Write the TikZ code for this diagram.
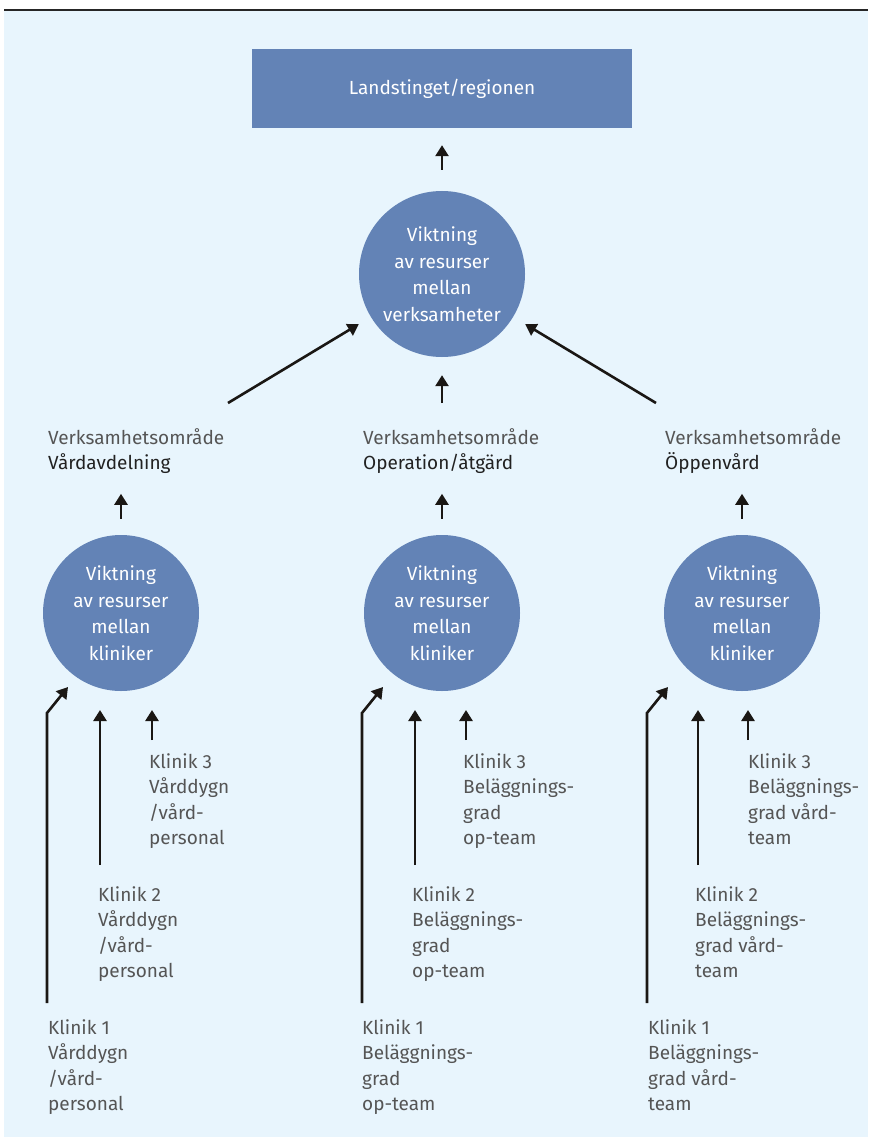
\documentclass[tikz,border=0pt]{standalone}
\usepackage{fontspec}
\setmainfont{Fira Sans}
\usetikzlibrary{arrows.meta}
\definecolor{bgblue}{HTML}{E8F5FD}
\definecolor{boxblue}{HTML}{6383B6}
\definecolor{txtgray}{HTML}{555555}
\definecolor{txtdark}{HTML}{222222}
\definecolor{pilsvart}{HTML}{1A1714}

\begin{document}
\begin{tikzpicture}[x=1pt, y=-1pt,
		vikt/.style={circle, fill=boxblue, text=white, align=center, inner sep=0pt, font=\fontsize{19}{26.5}\selectfont},
		etikett/.style={anchor=north west, inner sep=0pt, align=left, text=txtgray, font=\fontsize{19}{25.5}\selectfont},
		pil/.style={draw=pilsvart, line width=2.6pt, -{Triangle[length=11pt,width=13pt]}}]
			%%%%% START %%%%%
			
			\useasboundingbox (0, 0) rectangle (868, 1139);
			\fill[bgblue] (4, 11) rectangle (868, 1137);
			\draw[line width=2pt, color=black!85] (4, 10) -- (868, 10);
			
			% top level
			\node[fill=boxblue, text=white, minimum width=380pt, minimum height=79pt, inner sep=0pt, font=\fontsize{19}{24}\selectfont] (landsting) at (442, 88.5) {Landstinget/regionen};
			\node[vikt, minimum size=166pt] (vikttop) at (442, 274) {Viktning\\av resurser\\mellan\\verksamheter};
			\draw[pil, shorten <=21pt, shorten >=17pt] (vikttop) -- (landsting);
			
			% verksamhetsomraden
			\node[etikett] (omrvard) at (48, 428) {Verksamhetsområde\\{\color{txtdark}Vårdavdelning}};
			\node[etikett] (omrop) at (363, 428) {Verksamhetsområde\\{\color{txtdark}Operation/åtgärd}};
			\node[etikett] (omroppen) at (665, 428) {Verksamhetsområde\\{\color{txtdark}Öppenvård}};
			
			\coordinate (uppvard) at (228, 403);
			\coordinate (uppop) at (442, 403);
			\coordinate (uppoppen) at (656, 403);
			\draw[pil, shorten >=14pt] (uppvard) -- (vikttop);
			\draw[pil, shorten >=18pt] (uppop) -- (vikttop);
			\draw[pil, shorten >=14pt] (uppoppen) -- (vikttop);
			
			% kliniknivå
			\node[vikt, minimum size=156pt] (viktvard) at (121, 613) {Viktning\\av resurser\\mellan\\kliniker};
			\node[vikt, minimum size=156pt] (viktop) at (442, 613) {Viktning\\av resurser\\mellan\\kliniker};
			\node[vikt, minimum size=156pt] (viktoppen) at (742, 613) {Viktning\\av resurser\\mellan\\kliniker};
			
			\draw[pil, shorten <=16pt] (viktvard.north) -- ++(0, -41);
			\draw[pil, shorten <=16pt] (viktop.north) -- ++(0, -41);
			\draw[pil, shorten <=16pt] (viktoppen.north) -- ++(0, -41);
			
			% vardavdelning
			\node[etikett] (vard3) at (149, 753) {Klinik 3\\Vårddygn\\/vård-\\personal};
			\node[etikett] (vard2) at (98, 886) {Klinik 2\\Vårddygn\\/vård-\\personal};
			\node[etikett] (vard1) at (48, 1019) {Klinik 1\\Vårddygn\\/vård-\\personal};
			\draw[pil] (47, 1003) -- (47, 713) -- (68, 687);
			\draw[pil] (100, 865) -- (100, 710);
			\draw[pil] (152, 740) -- (152, 710);
			
			% operation
			\node[etikett] (op3) at (463, 753) {Klinik 3\\Beläggnings-\\grad\\op-team};
			\node[etikett] (op2) at (412, 886) {Klinik 2\\Beläggnings-\\grad\\op-team};
			\node[etikett] (op1) at (362, 1019) {Klinik 1\\Beläggnings-\\grad\\op-team};
			\draw[pil] (362, 1003) -- (362, 713) -- (383, 687);
			\draw[pil] (415, 865) -- (415, 710);
			\draw[pil] (466, 740) -- (466, 710);
			
			% oppenvard
			\node[etikett] (oppen3) at (748, 753) {Klinik 3\\Beläggnings-\\grad vård-\\team};
			\node[etikett] (oppen2) at (695, 886) {Klinik 2\\Beläggnings-\\grad vård-\\team};
			\node[etikett] (oppen1) at (648, 1019) {Klinik 1\\Beläggnings-\\grad vård-\\team};
			\draw[pil] (647, 1003) -- (647, 713) -- (668, 687);
			\draw[pil] (698, 865) -- (698, 710);
			\draw[pil] (748, 740) -- (748, 710);
			
			%%%%% END %%%%%
		\end{tikzpicture}
\end{document}
